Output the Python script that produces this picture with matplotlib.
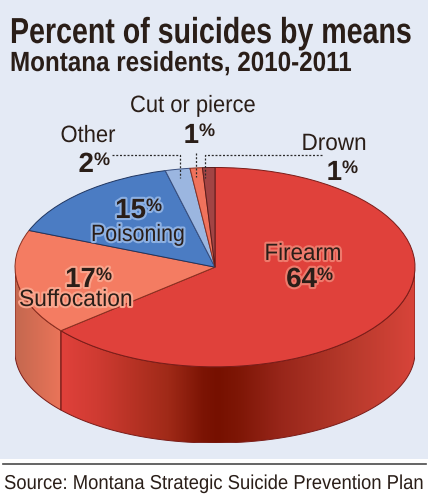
import numpy as np
import matplotlib
matplotlib.use('Agg')
import matplotlib.pyplot as plt
import matplotlib.patheffects as pe
from matplotlib.colors import LinearSegmentedColormap, to_rgb
from matplotlib.patches import Polygon, Rectangle
from matplotlib.text import Text
from matplotlib.transforms import Affine2D, Bbox

# data
means = ['Firearm', 'Suffocation', 'Poisoning', 'Other', 'Cut or pierce', 'Drown']
percents = [64, 17, 15, 2, 1, 1]
title = 'Percent of suicides by means'
subtitle = 'Montana residents, 2010-2011'
source = 'Source: Montana Strategic Suicide Prevention Plan'

colors = ['#e0413b', '#f47c62', '#4b7cc3', '#9bb6e0', '#f0725c', '#a24444']
edges = ['#7a1c18', '#8a3020', '#1f3560', '#3a5080', '#8a3020', '#5a1c1c']
ink = '#2a1e18'
face = 'Liberation Sans'

W, H = 431, 500
fig = plt.figure(figsize=(W / 100, H / 100), dpi=100, facecolor='white')
fig.add_artist(Rectangle((0, 1 - 459 / H), 428 / W, 459 / H, transform=fig.transFigure,
                         fc='#e4eaf5', ec='none', zorder=-1))

# pie axes: top ellipse 400 x 199 px, lower rim a bit flatter and 85 px down at the sides
left, right, top, bottom = 15, 415, 167.5, 443
ry_px = 99.75
drop = 85 / ry_px
flat = 91 / ry_px
ax = fig.add_axes([left / W, 1 - bottom / H, (right - left) / W, (bottom - top) / H])
ax.patch.set_alpha(0)
ax.set_zorder(1)

wedges, _ = ax.pie(percents, colors=colors, startangle=90, counterclock=False,
                   wedgeprops={'linewidth': 0.7})
for w, e in zip(wedges, edges):
    w.set_edgecolor(e)
    w.set_zorder(5)

# side wall, split where the firearm slice ends
split = 90 - 360 * percents[0] / sum(percents)
split_x = np.cos(np.radians(split))


def wall(a0, a1, stops, x0, x1):
    t = np.radians(np.linspace(a0, a1, 120))
    xs, ys = np.cos(t), np.sin(t)
    pts = np.r_[np.c_[xs, ys], np.c_[xs[::-1], ys[::-1] * flat - drop]]
    clip = Polygon(pts, closed=True, fc='none', ec='#7a1c18', lw=0.7, zorder=3)
    ax.add_patch(clip)
    cmap = LinearSegmentedColormap.from_list('w', stops)
    im = ax.imshow(np.linspace(0, 1, 256)[None, :], cmap=cmap, aspect='auto',
                   extent=(x0, x1, -drop - flat, 1), zorder=2)
    im.set_clip_path(clip)


wall(0, split, [(0, '#e0413b'), (0.10, '#cf3b32'), (0.30, '#a02a18'), (0.40, '#7c1404'),
                (0.44, '#761000'), (0.50, '#7e1606'), (0.62, '#98261a'), (0.82, '#b83a2c'),
                (1, '#d8443a')], split_x, 1)
wall(split, -180, [(0, '#c4684f'), (1, '#ea7459')], -1, split_x)
ax.set_aspect('auto')
ax.set_xlim(-1, 1)
ax.set_ylim(-drop - flat, 1)
ax.axis('off')

# page axes in pixels, y going down
page = fig.add_axes([0, 0, 1, 1])
page.set_xlim(0, W)
page.set_ylim(H, 0)
page.axis('off')
page.patch.set_alpha(0)
page.set_zorder(2)


# no condensed face is installed, so real text gets reshaped when it is drawn
class Reshape(pe.AbstractPathEffect):
    def __init__(self, x0, y0, sx, sy, halo=None):
        super().__init__()
        self.move = Affine2D().translate(-x0, -y0).scale(sx, sy).translate(x0, y0)
        self.halo = halo

    def draw_path(self, renderer, gc, tpath, affine, rgbFace=None):
        aff = affine + self.move
        if self.halo:
            gc0 = renderer.new_gc()
            gc0.copy_properties(gc)
            gc0.set_linewidth(3)
            gc0.set_foreground(self.halo)
            renderer.draw_path(gc0, tpath, aff, to_rgb(self.halo))
            gc0.restore()
        renderer.draw_path(gc, tpath, aff, rgbFace)


class NarrowText(Text):
    move = Affine2D()

    def get_window_extent(self, renderer=None, dpi=None):
        b = super().get_window_extent(renderer, dpi)
        return Bbox(self.move.transform(b.get_points()))


rend = fig.canvas.get_renderer()


def put(x, y, txt, size, width=None, tall=1.0, weight='normal', ha='left', halo=None):
    t = NarrowText(x, y, txt, family=face, weight=weight, fontsize=size, color=ink, ha=ha,
                   va='baseline')
    page.add_artist(t)
    sx = width / Text.get_window_extent(t, rend).width if width else 1.0
    x0, y0 = page.transData.transform((x, y))
    eff = Reshape(x0, y0, sx, tall, halo)
    t.move = eff.move
    t.set_path_effects([eff])
    return t


# title block
put(10, 43, title, 19, width=402, tall=1.37, weight='bold')
put(10, 71, subtitle, 18, width=342, tall=1.11, weight='bold')

# bottom rule and source
page.plot([3, 426], [463.5, 463.5], color='#4a4a4a', lw=1.2)
put(4, 489, source, 12.5, width=421, tall=1.16)

# centre x, baseline y, width of each name; split x, baseline y of each percent
name_pos = [(303, 260, 77), (76, 306, 114), (138, 241, 94), (88, 142, 55), (193, 112, 126), (334, 150, 65)]
pct_pos = [(317, 287), (96, 287), (146, 218), (94, 172), (199, 143), (342, 180)]
halos = ['#ee7a6c', '#f9a48c', '#8db0e2', None, None, None]
for i in range(len(means)):
    nx, ny, nw = name_pos[i]
    put(nx, ny, means[i], 17, width=nw, ha='center', halo=halos[i])
    px, py = pct_pos[i]
    put(px, py, str(percents[i]), 20, weight='bold', ha='right', halo=halos[i])
    put(px, py - 7, '%', 13, weight='bold', halo=halos[i])

# dotted leaders
dots = dict(color='#2a2a2a', lw=0.9, ls=(0, (1.6, 1.4)))
page.plot([112, 180, 180], [155, 155, 178], **dots)
page.plot([196, 196], [153, 177], **dots)
page.plot([322, 205, 205], [155, 155, 178], **dots)

fig.savefig('out.png', dpi=100, facecolor='white')
